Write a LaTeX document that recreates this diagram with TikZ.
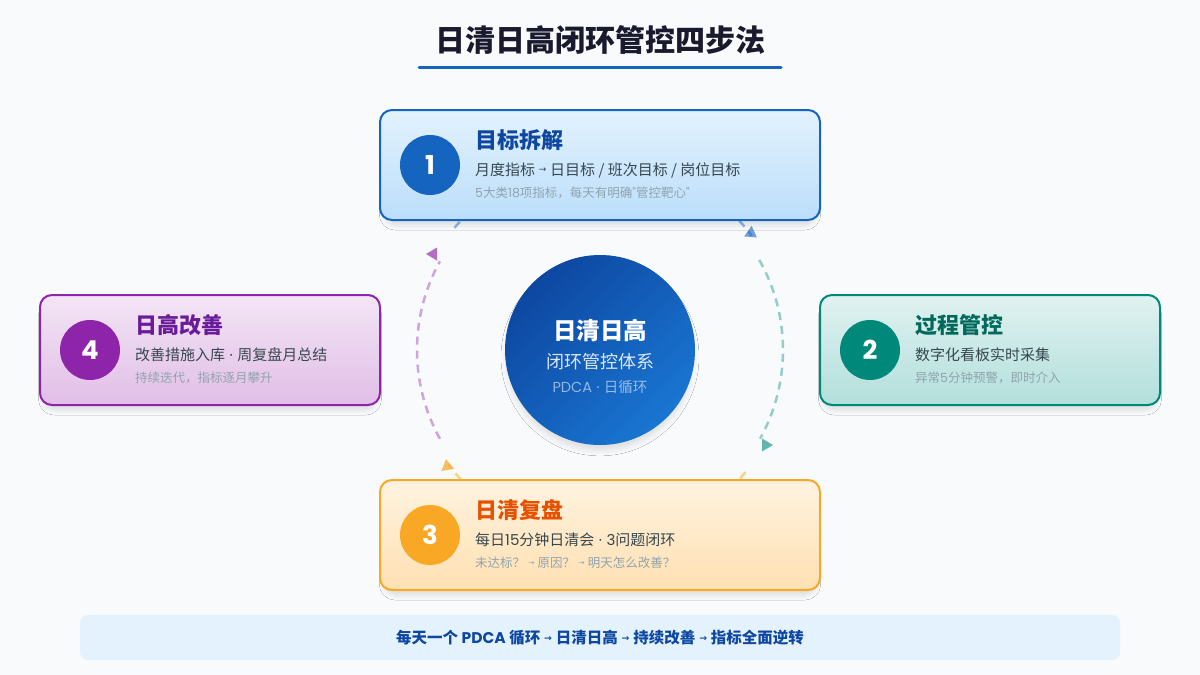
\documentclass[tikz,border=0pt]{standalone}
\usepackage{fontspec}
\setmainfont{Noto Sans CJK SC}
\newfontfamily\numfont{Poppins}
\newfontfamily\arrfont{DejaVu Sans}
\usetikzlibrary{shadows.blur}
\newcommand{\ar}{\hspace{0.25em}\raisebox{0.14em}{\scalebox{0.6}{\arrfont →}}\hspace{0.25em}}
\newcommand{\md}{\hspace{0.3em}{\numfont ·}\hspace{0.3em}}
\newcommand{\nm}[1]{{\numfont #1}}
\definecolor{bgc}{HTML}{F8FAFC}
\definecolor{titlec}{HTML}{1A1A2E}
\definecolor{cb}{HTML}{1565C0}
\definecolor{cbt}{HTML}{0D47A1}
\definecolor{cbtop}{HTML}{E3F2FD}
\definecolor{cbbot}{HTML}{BBDEFB}
\definecolor{ct}{HTML}{00897B}
\definecolor{ctt}{HTML}{00695C}
\definecolor{cttop}{HTML}{E0F2F1}
\definecolor{ctbot}{HTML}{B2DFDB}
\definecolor{co}{HTML}{F9A825}
\definecolor{cot}{HTML}{E65100}
\definecolor{cotop}{HTML}{FFF3E0}
\definecolor{cobot}{HTML}{FFE0B2}
\definecolor{cp}{HTML}{8E24AA}
\definecolor{cpt}{HTML}{6A1B9A}
\definecolor{cptop}{HTML}{F3E5F5}
\definecolor{cpbot}{HTML}{E1BEE7}
\definecolor{linec}{HTML}{37474F}
\definecolor{subc}{HTML}{90A4AE}
\definecolor{cdark}{HTML}{0D47A1}
\definecolor{clight}{HTML}{1976D2}
\definecolor{bannerc}{HTML}{E3F2FD}
\tikzset{
  stepcard/.style={rounded corners=12, line width=2, minimum height=110,
    blur shadow={shadow xshift=0pt, shadow yshift=-7pt, shadow blur radius=4pt, shadow opacity=9, shadow scale=0.985}},
  numcirc/.style={circle, minimum size=60, inner sep=0, text=white,
    font=\numfont\bfseries\fontsize{26}{30}\selectfont},
  ttl/.style={anchor=west, inner sep=0, font=\bfseries\fontsize{22}{26}\selectfont},
  lineone/.style={anchor=west, inner sep=0, text=linec, font=\fontsize{15}{18}\selectfont},
  linetwo/.style={anchor=west, inner sep=0, text=subc, font=\fontsize{12.5}{15}\selectfont},
  arcline/.style={line width=2.5, dash pattern=on 8 off 6}
}
\begin{document}
\begin{tikzpicture}[x=1pt,y=1pt]
\fill[bgc] (0,0) rectangle (1200,-675);
\useasboundingbox (0,0) rectangle (1200,-675);

% title
\node[font=\bfseries\fontsize{30}{36}\selectfont, text=titlec] (title) at (600,-40) {日清日高闭环管控四步法};
\coordinate (ulA) at (419,-67);
\coordinate (ulB) at (781,-67);
\draw[cb, line width=3, line cap=round] (ulA) -- (ulB);

% cycle arcs
\coordinate (ctr) at (600,-350);
\draw[arcline, cb, opacity=0.45] ([shift={(140:190)}]ctr) arc[start angle=140, end angle=37, radius=190];
\draw[arcline, ct, opacity=0.4] ([shift={(29.5:183)}]ctr) arc[start angle=29.5, end angle=-29, radius=183];
\draw[arcline, co, opacity=0.5] ([shift={(-40:190)}]ctr) arc[start angle=-40, end angle=-143, radius=190];
\draw[arcline, cp, opacity=0.4] ([shift={(209:183)}]ctr) arc[start angle=209, end angle=151, radius=183];

% arrow heads
\fill[cb, opacity=0.6, shift={(752,-234)}, rotate=-35] (6,0) -- (-5,6.5) -- (-5,-6.5) -- cycle;
\fill[ct, opacity=0.6, shift={(767,-445)}, rotate=0] (6,0) -- (-5,6.5) -- (-5,-6.5) -- cycle;
\fill[co, opacity=0.7, shift={(447,-465)}, rotate=100] (6,0) -- (-5,6.5) -- (-5,-6.5) -- cycle;
\fill[cp, opacity=0.65, shift={(432,-254)}, rotate=180] (6,0) -- (-5,6.5) -- (-5,-6.5) -- cycle;

% center circle
\node[circle, minimum size=190, inner sep=0, top color=cdark, bottom color=clight, shading angle=45,
  blur shadow={shadow xshift=0pt, shadow yshift=-7pt, shadow blur radius=6pt, shadow opacity=12, shadow scale=0.98}] (core) at (ctr) {};
\node[text=white, font=\bfseries\fontsize{23.5}{28}\selectfont] (coreA) at (600,-330) {日清日高};
\node[text=white, opacity=0.85, font=\fontsize{18}{22}\selectfont] (coreB) at (600,-362) {闭环管控体系};
\node[text=white, opacity=0.55, font=\fontsize{14.5}{17}\selectfont] (coreC) at (600,-387) {\nm{PDCA}\md{}日循环};

% step 1
\node[stepcard, draw=cb, top color=cbtop, bottom color=cbbot, minimum width=440] (s1) at (600,-165) {};
\node[numcirc, fill=cb] (n1) at (430,-165) {1};
\node[ttl, text=cbt] (h1) at (475,-140) {目标拆解};
\node[lineone] (l1a) at (475,-170) {月度指标\ar{}日目标 / 班次目标 / 岗位目标};
\node[linetwo] (l1b) at (475,-193) {\nm{5}大类\nm{18}项指标，每天有明确\nm{"}管控靶心\nm{"}};

% step 2
\node[stepcard, draw=ct, top color=cttop, bottom color=ctbot, minimum width=340] (s2) at (990,-350) {};
\node[numcirc, fill=ct] (n2) at (870,-350) {2};
\node[ttl, text=ctt] (h2) at (915,-325) {过程管控};
\node[lineone] (l2a) at (915,-355) {数字化看板实时采集};
\node[linetwo] (l2b) at (915,-378) {异常\nm{5}分钟预警，即时介入};

% step 3
\node[stepcard, draw=co, top color=cotop, bottom color=cobot, minimum width=440] (s3) at (600,-535) {};
\node[numcirc, fill=co] (n3) at (430,-535) {3};
\node[ttl, text=cot] (h3) at (475,-510) {日清复盘};
\node[lineone] (l3a) at (475,-540) {每日\nm{15}分钟日清会\md{}\nm{3}问题闭环};
\node[linetwo] (l3b) at (475,-563) {未达标？\ar{}原因？\ar{}明天怎么改善？};

% step 4
\node[stepcard, draw=cp, top color=cptop, bottom color=cpbot, minimum width=340] (s4) at (210,-350) {};
\node[numcirc, fill=cp] (n4) at (90,-350) {4};
\node[ttl, text=cpt] (h4) at (135,-325) {日高改善};
\node[lineone] (l4a) at (135,-355) {改善措施入库\md{}周复盘月总结};
\node[linetwo] (l4b) at (135,-378) {持续迭代，指标逐月攀升};

% banner
\node[rounded corners=8, fill=bannerc, minimum width=1040, minimum height=45, inner sep=0,
  text=cbt, font=\bfseries\fontsize{15.5}{18}\selectfont] (banner) at (600,-637.5)
  {每天一个 \nm{PDCA} 循环\ar{}日清日高\ar{}持续改善\ar{}指标全面逆转};
\end{tikzpicture}
\end{document}
